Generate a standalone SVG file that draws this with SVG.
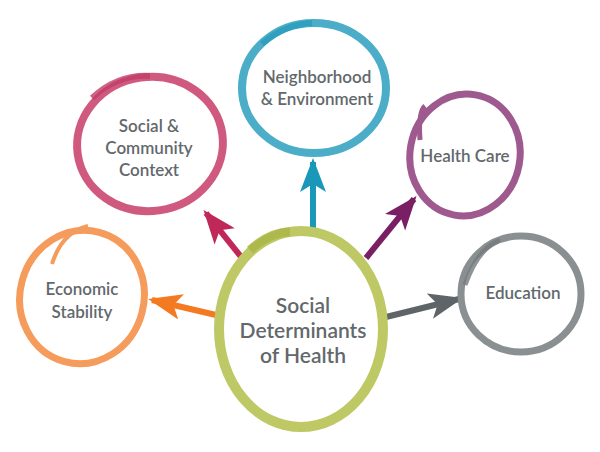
<svg xmlns="http://www.w3.org/2000/svg" width="600" height="452" viewBox="0 0 600 452">
<defs>
<style>
.lbl{font-family:Lato,"Open Sans","Liberation Sans",sans-serif;font-weight:600;fill:#62686c;text-anchor:middle}
.ring{fill:none}
.shaft{fill:none;stroke-width:6;stroke-linecap:butt}
</style>
<marker id="hPink" markerUnits="userSpaceOnUse" markerWidth="34" markerHeight="26" refX="30" refY="13" orient="auto"><path d="M0,0 L34,13 L0,26 L8,13 Z" fill="#c0285a"/></marker>
<marker id="hBlue" markerUnits="userSpaceOnUse" markerWidth="34" markerHeight="26" refX="30" refY="13" orient="auto"><path d="M0,0 L34,13 L0,26 L8,13 Z" fill="#1a98b9"/></marker>
<marker id="hPurple" markerUnits="userSpaceOnUse" markerWidth="34" markerHeight="26" refX="30" refY="13" orient="auto"><path d="M0,0 L34,13 L0,26 L8,13 Z" fill="#7a1f63"/></marker>
<marker id="hGray" markerUnits="userSpaceOnUse" markerWidth="34" markerHeight="26" refX="30" refY="13" orient="auto"><path d="M0,0 L34,13 L0,26 L8,13 Z" fill="#5e6467"/></marker>
<marker id="hOrange" markerUnits="userSpaceOnUse" markerWidth="34" markerHeight="26" refX="30" refY="13" orient="auto"><path d="M0,0 L34,13 L0,26 L8,13 Z" fill="#f47a22"/></marker>
</defs>
<rect width="600" height="452" fill="#ffffff"/>
<g id="connectors">
<path class="shaft" d="M242,258 L206,213" stroke="#c0285a" marker-end="url(#hPink)"/>
<path class="shaft" d="M313,228 L313,162" stroke="#1a98b9" marker-end="url(#hBlue)"/>
<path class="shaft" d="M366,258 L414,199" stroke="#7a1f63" marker-end="url(#hPurple)"/>
<path class="shaft" d="M386,317 L459,299" stroke="#5e6467" marker-end="url(#hGray)"/>
<path class="shaft" d="M216,315 L152,300" stroke="#f47a22" marker-end="url(#hOrange)"/>
</g>
<g id="social-community">
<ellipse class="ring" cx="150" cy="144" rx="73" ry="67" stroke="#d05a7f" stroke-width="8" transform="rotate(-8 150 144)"/>
<path d="M92,98 Q118,74 150,76" fill="none" stroke="#c23c69" stroke-width="6" opacity="0.8"/>
<text class="lbl" font-size="17" x="149" y="132">Social &amp;</text>
<text class="lbl" font-size="17" x="149" y="154">Community</text>
<text class="lbl" font-size="17" x="149" y="176">Context</text>
</g>
<g id="neighborhood">
<ellipse class="ring" cx="314" cy="88" rx="72" ry="65" stroke="#4badc8" stroke-width="8"/>
<path d="M262,44 Q285,24 312,23" fill="none" stroke="#2a9cbd" stroke-width="6" opacity="0.8"/>
<text class="lbl" font-size="17" x="317" y="83">Neighborhood</text>
<text class="lbl" font-size="17" x="317" y="105">&amp; Environment</text>
</g>
<g id="health-care">
<ellipse class="ring" cx="465" cy="155" rx="55" ry="61" stroke="#9e5a8e" stroke-width="7" transform="rotate(10 465 155)"/>
<path d="M420,140 Q418,112 425,106" fill="none" stroke="#9e5a8e" stroke-width="5"/>
<text class="lbl" font-size="17" x="465" y="162">Health Care</text>
</g>
<g id="education">
<ellipse class="ring" cx="521" cy="294" rx="60" ry="58" stroke="#8a8f92" stroke-width="7"/>
<path d="M465,285 Q478,248 500,240" fill="none" stroke="#74797c" stroke-width="5" opacity="0.8"/>
<text class="lbl" font-size="17" x="523" y="299">Education</text>
</g>
<g id="economic-stability">
<ellipse class="ring" cx="82" cy="297" rx="62" ry="67" stroke="#f59b5b" stroke-width="7" transform="rotate(15 82 297)"/>
<path d="M52,264 Q62,232 88,226" fill="none" stroke="#f59b5b" stroke-width="4"/>
<text class="lbl" font-size="17" x="82" y="295">Economic</text>
<text class="lbl" font-size="17" x="82" y="318">Stability</text>
</g>
<g id="social-determinants">
<ellipse class="ring" cx="301" cy="329" rx="82" ry="98" stroke="#bec965" stroke-width="10"/>
<path d="M250,250 Q270,232 290,232" fill="none" stroke="#aab646" stroke-width="9" opacity="0.85"/>
<text class="lbl" font-size="21" x="303" y="313">Social</text>
<text class="lbl" font-size="21" x="303" y="338">Determinants</text>
<text class="lbl" font-size="21" x="303" y="363">of Health</text>
</g>
</svg>
